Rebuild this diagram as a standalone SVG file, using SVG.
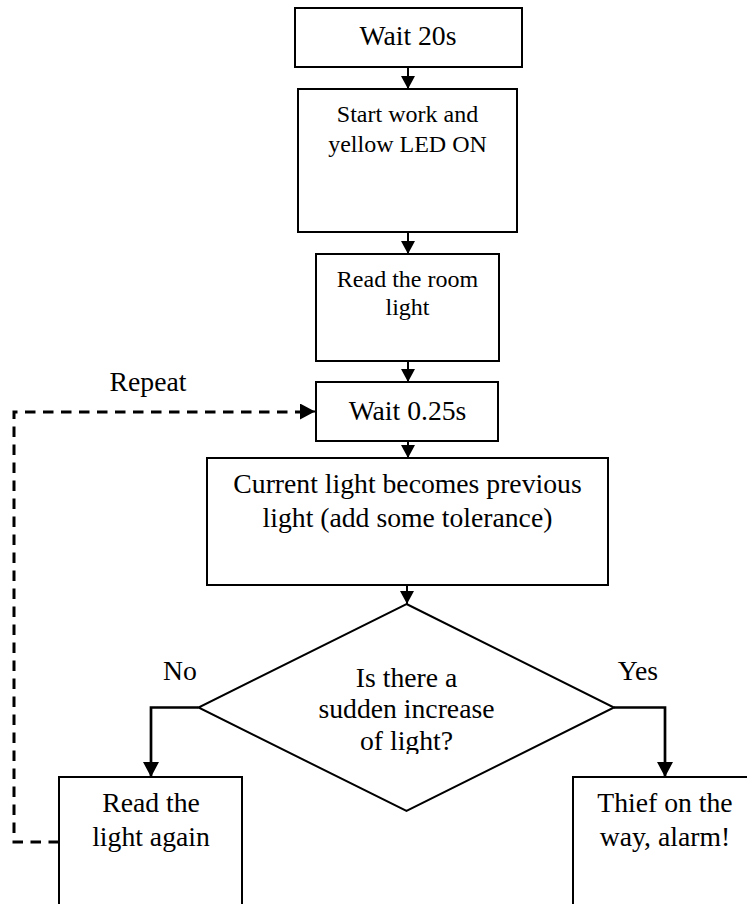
<svg xmlns="http://www.w3.org/2000/svg" width="747" height="904" viewBox="0 0 747 904">
<style>
.box{fill:#fff;stroke:#000;stroke-width:2}
.t{font-family:"Liberation Serif","Times New Roman",serif;font-size:27.7px;fill:#000;text-anchor:middle}
.s{font-size:24px}
.c{fill:none;stroke:#000;stroke-width:2}
.cb{fill:none;stroke:#000;stroke-width:2.7}
.d{fill:none;stroke:#000;stroke-width:3;stroke-dasharray:10.5 7.5}
</style>
<defs>
<marker id="ah" markerUnits="userSpaceOnUse" markerWidth="13" markerHeight="14" refX="13" refY="7" orient="auto" viewBox="0 0 13 14"><path d="M0,0 L13,7 L0,14 z" fill="#000"/></marker>
<marker id="ahb" markerUnits="userSpaceOnUse" markerWidth="15" markerHeight="16" refX="15" refY="8" orient="auto" viewBox="0 0 15 16"><path d="M0,0 L15,8 L0,16 z" fill="#000"/></marker>
<clipPath id="dclip"><rect x="180" y="600" width="450" height="154"/></clipPath>
</defs>
<g id="connectors">
<path class="c" d="M408,67 V89" marker-end="url(#ah)"/>
<path class="c" d="M408,232 V254" marker-end="url(#ah)"/>
<path class="c" d="M408,361 V382" marker-end="url(#ah)"/>
<path class="c" d="M408,441 V458" marker-end="url(#ah)"/>
<path class="c" d="M407,585 V604" marker-end="url(#ah)"/>
<path class="cb" d="M198.5,707.5 H151 V777" marker-end="url(#ahb)"/>
<path class="cb" d="M614,707.5 H665 V777" marker-end="url(#ahb)"/>
<path class="d" d="M59,842 H14 V412 H301"/>
<path class="c" d="M300,411.5 H315" marker-end="url(#ahb)"/>
<text class="t" x="148" y="391">Repeat</text>
<text class="t" x="180" y="680">No</text>
<text class="t" x="638" y="680">Yes</text>
</g>
<g id="n1">
<rect class="box" x="295" y="8" width="227" height="59"/>
<text class="t" x="408" y="45">Wait 20s</text>
</g>
<g id="n2">
<rect class="box" x="298" y="89" width="219" height="143"/>
<text class="t s" x="407.5" y="122">Start work and</text>
<text class="t s" x="407.5" y="152">yellow LED ON</text>
</g>
<g id="n3">
<rect class="box" x="316" y="254" width="183" height="107"/>
<text class="t s" x="407.5" y="287">Read the room</text>
<text class="t s" x="407.5" y="315">light</text>
</g>
<g id="n4">
<rect class="box" x="316" y="382" width="182" height="59"/>
<text class="t" x="407.5" y="420">Wait 0.25s</text>
</g>
<g id="n5">
<rect class="box" x="207" y="458" width="401" height="127"/>
<text class="t" x="407.5" y="493">Current light becomes previous</text>
<text class="t" x="407.5" y="527">light (add some tolerance)</text>
</g>
<g id="n6">
<polygon class="box" points="406.5,604 614,707.5 406.5,811 198.5,707.5"/>
<g clip-path="url(#dclip)">
<text class="t" x="406.5" y="687">Is there a</text>
<text class="t" x="406.5" y="718">sudden increase</text>
<text class="t" x="406.5" y="750">of light?</text>
</g>
</g>
<g id="n7">
<rect class="box" x="59" y="777" width="183" height="140"/>
<text class="t" x="151" y="812">Read the</text>
<text class="t" x="151" y="846">light again</text>
</g>
<g id="n8">
<rect class="box" x="573" y="777" width="190" height="140"/>
<text class="t" x="665" y="812">Thief on the</text>
<text class="t" x="665" y="846">way, alarm!</text>
</g>
</svg>
